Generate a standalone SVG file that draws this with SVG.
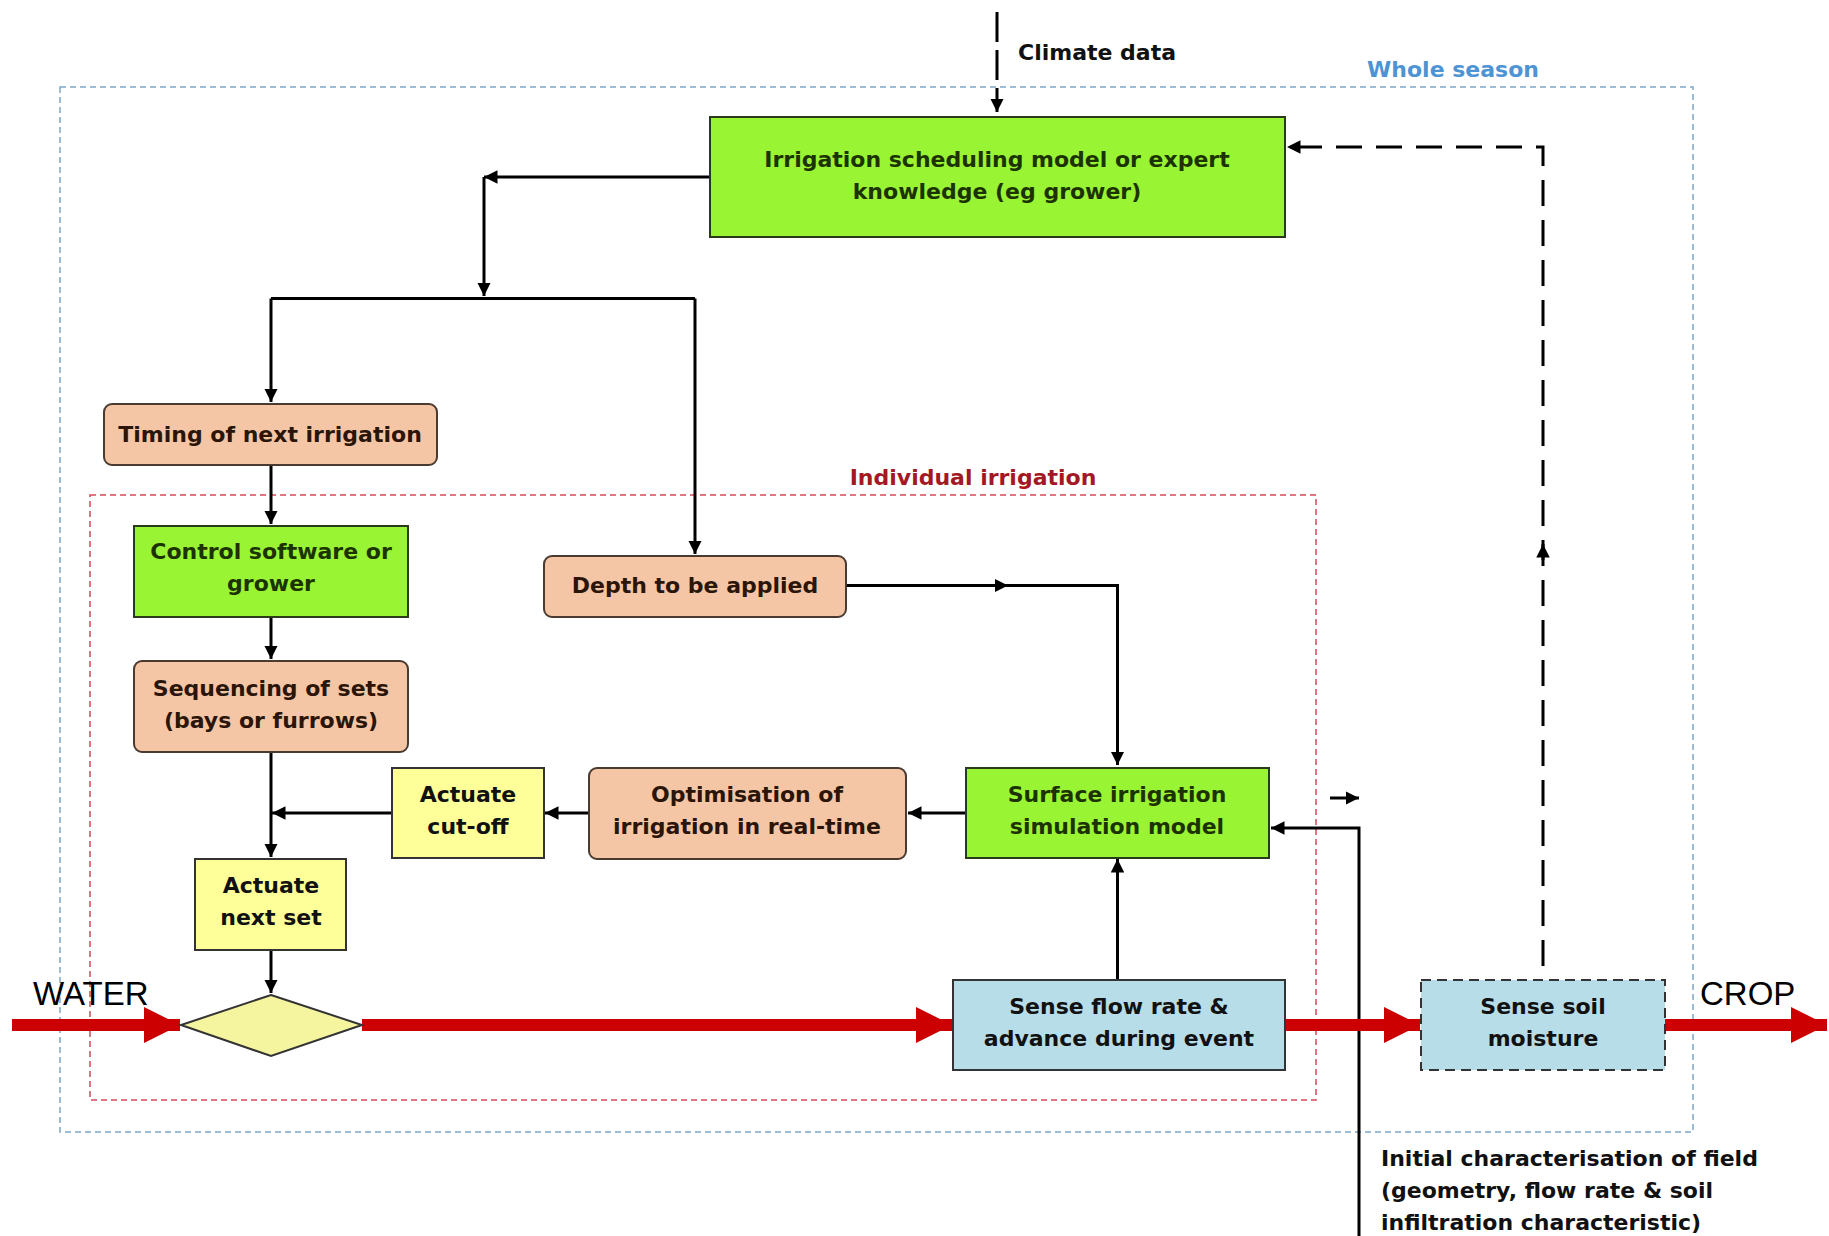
<svg xmlns="http://www.w3.org/2000/svg" width="1829" height="1236" viewBox="0 0 1829 1236">
<defs>
<style>
.t{font-family:"DejaVu Sans","Liberation Sans",sans-serif;font-weight:bold;font-size:22px;text-anchor:middle}
.tg{fill:#1c3300}
.tp{fill:#2a1508}
.tk{fill:#111}
.lb{font-family:"DejaVu Sans","Liberation Sans",sans-serif;font-weight:bold;font-size:22px;fill:#111}
.big{font-family:"Liberation Sans",Arial,sans-serif;font-size:33px;fill:#000}
.green{fill:#99f533;stroke:#2a3a1a;stroke-width:2}
.peach{fill:#f5c6a6;stroke:#4a3a30;stroke-width:2}
.yellow{fill:#ffff99;stroke:#333;stroke-width:2}
.blue{fill:#b7dde8;stroke:#333;stroke-width:2}
.con{fill:none;stroke:#000;stroke-width:3}
.red{fill:none;stroke:#cc0000;stroke-width:12}
</style>
<marker id="ah" viewBox="0 0 10 10" refX="10" refY="5" markerWidth="4.5" markerHeight="4.5" orient="auto" markerUnits="strokeWidth">
<path d="M0,0 L10,5 L0,10 z" fill="#000"/>
</marker>
<marker id="ahr" viewBox="0 0 10 10" refX="10" refY="5" markerWidth="3" markerHeight="3" orient="auto" markerUnits="strokeWidth">
<path d="M0,0 L10,5 L0,10 z" fill="#cc0000"/>
</marker>
</defs>
<rect width="1829" height="1236" fill="#fff"/>

<!-- boundaries -->
<g id="whole-season">
<rect x="60" y="87" width="1633" height="1045" fill="none" stroke="#7fa6c6" stroke-width="1.5" stroke-dasharray="6 4"/>
<text x="1453" y="77" style="font-family:'DejaVu Sans',sans-serif;font-weight:bold;font-size:22px;fill:#4d94d4;text-anchor:middle">Whole season</text>
</g>
<g id="individual-irrigation">
<rect x="90" y="495" width="1226" height="605" fill="none" stroke="#d84a5a" stroke-width="1.5" stroke-dasharray="6 4"/>
<text x="973" y="485" style="font-family:'DejaVu Sans',sans-serif;font-weight:bold;font-size:22px;fill:#a31824;text-anchor:middle">Individual irrigation</text>
</g>

<!-- connectors -->
<g id="connectors">
<path class="con" d="M997,12 V112" stroke-dasharray="30 8" marker-end="url(#ah)"/>
<path class="con" d="M710,177 H484" marker-end="url(#ah)"/>
<path class="con" d="M484,177 V296" marker-end="url(#ah)"/>
<path class="con" d="M271,298.5 H695"/>
<path class="con" d="M271,298.5 V402" marker-end="url(#ah)"/>
<path class="con" d="M695,298.5 V554" marker-end="url(#ah)"/>
<path class="con" d="M271,465 V524" marker-end="url(#ah)"/>
<path class="con" d="M271,617 V659" marker-end="url(#ah)"/>
<path class="con" d="M271,752 V857" marker-end="url(#ah)"/>
<path class="con" d="M846,585.5 H1008" marker-end="url(#ah)"/>
<path class="con" d="M1005,585.5 H1117.5 V765"/>
<path class="con" d="M1117.5,585.5 V765" marker-end="url(#ah)"/>
<path class="con" d="M966,813 H908" marker-end="url(#ah)"/>
<path class="con" d="M589,813 H545" marker-end="url(#ah)"/>
<path class="con" d="M392,813 H272" marker-end="url(#ah)"/>
<path class="con" d="M271,950 V993" marker-end="url(#ah)"/>
<path class="con" d="M1117.5,980 V859" marker-end="url(#ah)"/>
<path class="con" d="M1359,1236 V828 H1271" marker-end="url(#ah)"/>
<path class="con" d="M1330,798 H1359" marker-end="url(#ah)"/>
<path class="con" d="M1543,966 V147 H1287" stroke-dasharray="26 14" marker-end="url(#ah)"/>
<path class="con" d="M1543,560 V544" marker-end="url(#ah)"/>
<!-- water flow -->
<path class="red" d="M12,1025 H180" marker-end="url(#ahr)"/>
<path class="red" d="M362,1025 H952" marker-end="url(#ahr)"/>
<path class="red" d="M1286,1025 H1420" marker-end="url(#ahr)"/>
<path class="red" d="M1665,1025 H1827" marker-end="url(#ahr)"/>
</g>

<!-- nodes -->
<g id="scheduling">
<rect class="green" x="710" y="117" width="575" height="120"/>
<text class="t tg" x="997" y="167">Irrigation scheduling model or expert</text>
<text class="t tg" x="997" y="199">knowledge (eg grower)</text>
</g>
<g id="timing">
<rect class="peach" x="104" y="404" width="333" height="61" rx="8"/>
<text class="t tp" x="270" y="442">Timing of next irrigation</text>
</g>
<g id="control">
<rect class="green" x="134" y="526" width="274" height="91"/>
<text class="t tg" x="271" y="559">Control software or</text>
<text class="t tg" x="271" y="591">grower</text>
</g>
<g id="depth">
<rect class="peach" x="544" y="556" width="302" height="61" rx="8"/>
<text class="t tp" x="695" y="593">Depth to be applied</text>
</g>
<g id="sequencing">
<rect class="peach" x="134" y="661" width="274" height="91" rx="8"/>
<text class="t tp" x="271" y="696">Sequencing of sets</text>
<text class="t tp" x="271" y="728">(bays or furrows)</text>
</g>
<g id="cutoff">
<rect class="yellow" x="392" y="768" width="152" height="90"/>
<text class="t tk" x="468" y="802">Actuate</text>
<text class="t tk" x="468" y="834">cut-off</text>
</g>
<g id="optimisation">
<rect class="peach" x="589" y="768" width="317" height="91" rx="8"/>
<text class="t tp" x="747" y="802">Optimisation of</text>
<text class="t tp" x="747" y="834">irrigation in real-time</text>
</g>
<g id="simulation">
<rect class="green" x="966" y="768" width="303" height="90"/>
<text class="t tg" x="1117" y="802">Surface irrigation</text>
<text class="t tg" x="1117" y="834">simulation model</text>
</g>
<g id="next-set">
<rect class="yellow" x="195" y="859" width="151" height="91"/>
<text class="t tk" x="271" y="893">Actuate</text>
<text class="t tk" x="271" y="925">next set</text>
</g>
<g id="valve">
<polygon points="271,995 362,1025 271,1056 181,1025" fill="#f5f5a0" stroke="#333" stroke-width="2"/>
</g>
<g id="sense-flow">
<rect class="blue" x="953" y="980" width="332" height="90"/>
<text class="t tk" x="1119" y="1014">Sense flow rate &amp;</text>
<text class="t tk" x="1119" y="1046">advance during event</text>
</g>
<g id="sense-soil">
<rect x="1421" y="980" width="244" height="90" fill="#b7dde8" stroke="#333" stroke-width="2" stroke-dasharray="10 6"/>
<text class="t tk" x="1543" y="1014">Sense soil</text>
<text class="t tk" x="1543" y="1046">moisture</text>
</g>

<!-- free labels -->
<g id="labels">
<text class="lb" x="1018" y="60">Climate data</text>
<text class="big" x="33" y="1005">WATER</text>
<text class="big" x="1700" y="1005">CROP</text>
<text class="lb" x="1381" y="1166">Initial characterisation of field</text>
<text class="lb" x="1381" y="1198">(geometry, flow rate &amp; soil</text>
<text class="lb" x="1381" y="1230">infiltration characteristic)</text>
</g>
</svg>
